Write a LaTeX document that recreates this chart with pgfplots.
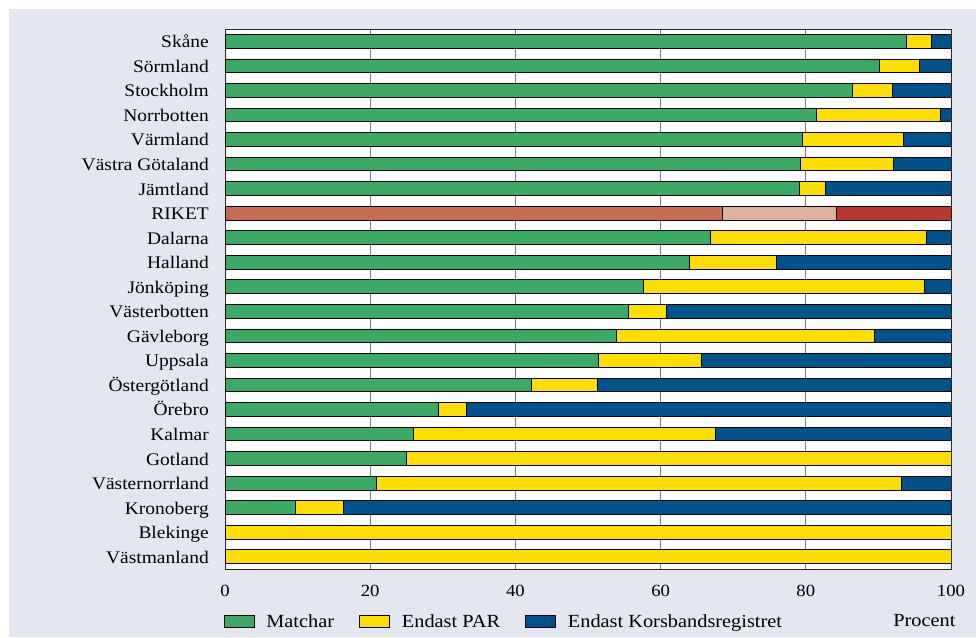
\documentclass[border=0pt]{standalone}
\usepackage{fontspec}
\setmainfont{Liberation Serif}[FakeStretch=1.1]
\usepackage{pgfplots}
\pgfplotsset{compat=1.18}
\usepackage{pgfplotstable}

\definecolor{bgcol}{RGB}{228,231,240}
\definecolor{cgreen}{RGB}{58,170,100}
\definecolor{cyellow}{RGB}{255,221,0}
\definecolor{cblue}{RGB}{0,83,138}
\definecolor{rik1}{RGB}{201,106,82}
\definecolor{rik2}{RGB}{224,176,158}
\definecolor{rik3}{RGB}{184,56,48}
\definecolor{gridcol}{RGB}{120,120,120}

\newcommand\labfont{\fontsize{17.7}{18}\selectfont}
\newcommand\legfont{\fontsize{18.5}{19}\selectfont}
\newcommand\tickfont{\fontsize{17}{17}\selectfont}

% row, matchar, endast PAR, endast korsbandsregistret (RIKET, row 7, drawn separately)
\pgfplotstableread{
y  green yellow blue
0  93.8  3.5   2.7
1  90.2  5.4   4.4
2  86.4  5.5   8.1
3  81.4  17.1  1.5
4  79.5  13.9  6.6
5  79.2  12.8  8.0
6  79.1  3.6   17.3
8  66.8  29.8  3.4
9  63.9  12.1  24.0
10 57.6  38.7  3.7
11 55.6  5.2   39.2
12 53.9  35.5  10.6
13 51.5  14.1  34.4
14 42.2  9.1   48.7
15 29.4  3.9   66.7
16 25.9  41.7  32.4
17 25.0  75.0  0
18 20.8  72.4  6.8
19 9.7   6.6   83.7
20 0     100   0
21 0     100   0
}\lan

\pgfplotsset{
  base/.style={
    at={(225pt,68pt)}, anchor=south west,
    scale only axis, width=726pt, height=540pt,
    xmin=0, xmax=100, ymin=-0.5, ymax=21.5, y dir=reverse,
    xbar stacked, bar width=13.7pt,
  },
  segm/.style={draw=black, line width=0.8pt, fill=#1},
}

\begin{document}
\begin{tikzpicture}
\fill[white] (0,0) rectangle (976pt,637pt);
\fill[bgcol] (9pt,0) rectangle (976pt,628pt);

\begin{axis}[
  base,
  axis background/.style={fill=white},
  axis line style={black!85, line width=0.9pt},
  xtick={0,20,...,100},
  ytick={0,...,21},
  yticklabels={Skåne, Sörmland, Stockholm, Norrbotten, Värmland, Västra Götaland,
    Jämtland, RIKET, Dalarna, Halland, Jönköping, Västerbotten, Gävleborg, Uppsala,
    Östergötland, Örebro, Kalmar, Gotland, Västernorrland, Kronoberg, Blekinge, Västmanland},
  major tick length=0pt,
  xmajorgrids,
  grid style={gridcol, line width=1pt},
  /pgf/number format/assume math mode=true,
  xticklabel style={font=\tickfont, anchor=north, inner sep=0pt, yshift=-16pt},
  yticklabel style={font=\labfont, anchor=base east, inner sep=0pt, xshift=-16pt, yshift=-6.5pt},
  xlabel={Procent},
  xlabel style={font=\legfont, at={(axis description cs:1.0065,-0.1056)}, anchor=base east, inner sep=0pt},
  legend columns=3,
  legend style={draw=none, fill=none, inner sep=0pt, font=\legfont,
    at={(-0.0023,-0.097)}, anchor=west,
    /tikz/every odd column/.append style={column sep=10pt},
    /tikz/every even column/.append style={column sep=23pt}},
  legend image code/.code={\draw[#1] (0pt,-6.3pt) rectangle (30pt,6.3pt);},
]
\addplot[segm=cgreen] table[x=green, y=y] {\lan};
\addplot[segm=cyellow] table[x=yellow, y=y] {\lan};
\addplot[segm=cblue] table[x=blue, y=y] {\lan};
\legend{Matchar, Endast PAR, Endast Korsbandsregistret}
\end{axis}

\begin{axis}[base, hide axis]
\addplot[segm=rik1] coordinates {(68.5,7)};
\addplot[segm=rik2] coordinates {(15.7,7)};
\addplot[segm=rik3] coordinates {(15.8,7)};
\end{axis}
\end{tikzpicture}
\end{document}
